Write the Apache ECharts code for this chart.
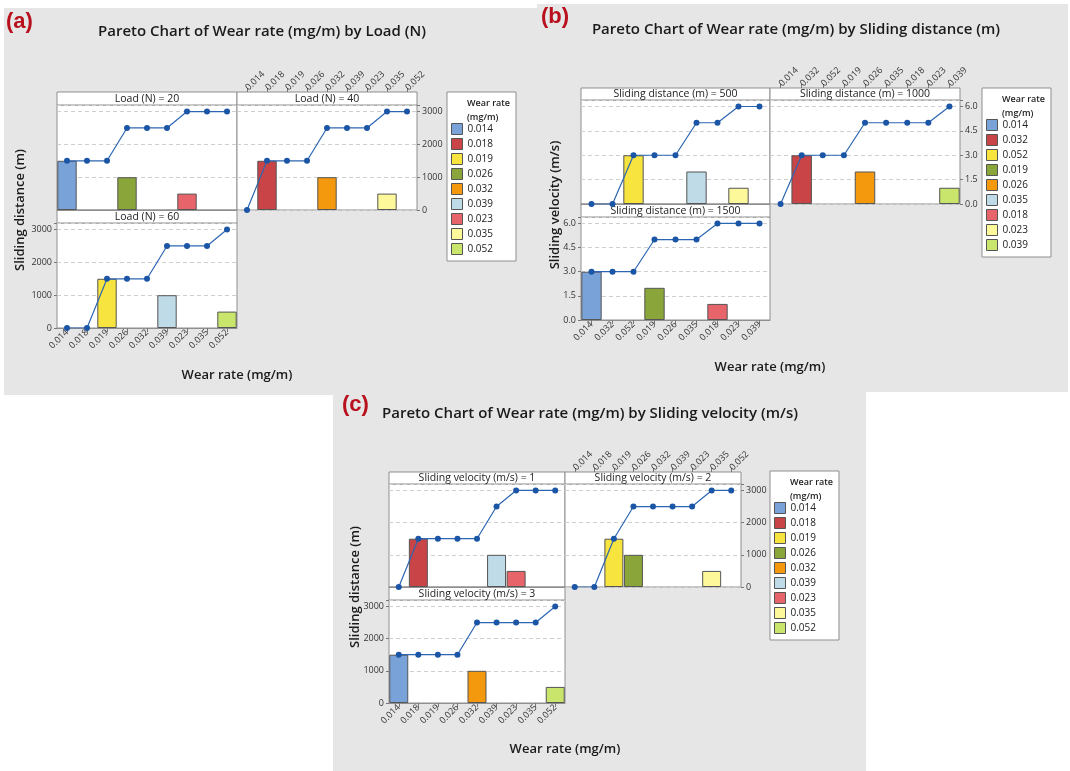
<!DOCTYPE html>
<html>
<head>
<meta charset="utf-8">
<script src="https://cdn.jsdelivr.net/npm/echarts@6/dist/echarts.min.js"></script>
<style>
  html, body { margin: 0; padding: 0; background: #fff; width: 1070px; height: 771px; overflow: hidden; }
  .panel { position: absolute; background: #e6e6e6; }
</style>
</head>
<body>
<div id="pa" class="panel" style="left:4px;top:8px;width:533px;height:387px"></div>
<div id="pb" class="panel" style="left:537px;top:4px;width:531px;height:388px"></div>
<div id="pc" class="panel" style="left:333px;top:392px;width:533px;height:379px"></div>
<script>
// ---- (a) wear rate by load ----
const wearRatesA = ['0.014', '0.018', '0.019', '0.026', '0.032', '0.039', '0.023', '0.035', '0.052'];
const loadFacets = ['20', '40', '60'];
const distAtLoad20 = [1500, 0, 0, 1000, 0, 0, 500, 0, 0];
const distAtLoad40 = [0, 1500, 0, 0, 1000, 0, 0, 500, 0];
const distAtLoad60 = [0, 0, 1500, 0, 0, 1000, 0, 0, 500];
const cumAtLoad20 = [1500, 1500, 1500, 2500, 2500, 2500, 3000, 3000, 3000];
const cumAtLoad40 = [0, 1500, 1500, 1500, 2500, 2500, 2500, 3000, 3000];
const cumAtLoad60 = [0, 0, 1500, 1500, 1500, 2500, 2500, 2500, 3000];
const distanceTicks = [0, 1000, 2000, 3000];

// ---- (b) wear rate by sliding distance ----
const wearRatesB = ['0.014', '0.032', '0.052', '0.019', '0.026', '0.035', '0.018', '0.023', '0.039'];
const distanceFacets = ['500', '1000', '1500'];
const velAtDist500 = [0, 0, 3, 0, 0, 2, 0, 1, 0];
const velAtDist1000 = [0, 3, 0, 0, 2, 0, 0, 0, 1];
const velAtDist1500 = [3, 0, 0, 2, 0, 0, 1, 0, 0];
const cumAtDist500 = [0, 0, 3, 3, 3, 5, 5, 6, 6];
const cumAtDist1000 = [0, 3, 3, 3, 5, 5, 5, 5, 6];
const cumAtDist1500 = [3, 3, 3, 5, 5, 5, 6, 6, 6];
const velocityTicks = [0, 1.5, 3, 4.5, 6];

// ---- (c) wear rate by sliding velocity ----
const wearRatesC = ['0.014', '0.018', '0.019', '0.026', '0.032', '0.039', '0.023', '0.035', '0.052'];
const velocityFacets = ['1', '2', '3'];
const distAtVel1 = [0, 1500, 0, 0, 0, 1000, 500, 0, 0];
const distAtVel2 = [0, 0, 1500, 1000, 0, 0, 0, 500, 0];
const distAtVel3 = [1500, 0, 0, 0, 1000, 0, 0, 0, 500];
const cumAtVel1 = [0, 1500, 1500, 1500, 1500, 2500, 3000, 3000, 3000];
const cumAtVel2 = [0, 0, 1500, 2500, 2500, 2500, 2500, 3000, 3000];
const cumAtVel3 = [1500, 1500, 1500, 1500, 2500, 2500, 2500, 2500, 3000];

// colour of each legend slot, in category order
const PALETTE = ['#79a3d8', '#c84446', '#f8e43e', '#8aa53a', '#f4990e', '#bedbe7', '#e7646a', '#fdf99a', '#cae56b'];
const FONT = '"Open Sans", "Noto Sans", sans-serif';
const BORDER = '#8f8f8f';

const panels = [
  {
    el: 'pa', box: [4, 8], tag: '(a)', tagPos: [6, 11],
    title: 'Pareto Chart of Wear rate (mg/m) by Load (N)', titlePos: [262, 32],
    facetName: 'Load (N)', facets: loadFacets, cats: wearRatesA,
    bars: [distAtLoad20, distAtLoad40, distAtLoad60], cums: [cumAtLoad20, cumAtLoad40, cumAtLoad60],
    ticks: distanceTicks, yMax: 3200, dec: 0,
    cols: [57, 237, 417], rows: [92, 105, 210, 223, 328],
    legendPos: [447, 92], yTitle: 'Sliding distance (m)', yTitlePos: [20, 210],
    xTitle: 'Wear rate (mg/m)', xTitlePos: [237, 375]
  },
  {
    el: 'pb', box: [537, 4], tag: '(b)', tagPos: [541, 6],
    title: 'Pareto Chart of Wear rate (mg/m) by Sliding distance (m)', titlePos: [796, 30],
    facetName: 'Sliding distance (m)', facets: distanceFacets, cats: wearRatesB,
    bars: [velAtDist500, velAtDist1000, velAtDist1500], cums: [cumAtDist500, cumAtDist1000, cumAtDist1500],
    ticks: velocityTicks, yMax: 6.4, dec: 1,
    cols: [581, 770, 960], rows: [88, 100, 204, 217, 320],
    legendPos: [982, 88], yTitle: 'Sliding velocity (m/s)', yTitlePos: [555, 205],
    xTitle: 'Wear rate (mg/m)', xTitlePos: [770, 367]
  },
  {
    el: 'pc', box: [333, 392], tag: '(c)', tagPos: [342, 394],
    title: 'Pareto Chart of Wear rate (mg/m) by Sliding velocity (m/s)', titlePos: [590, 414],
    facetName: 'Sliding velocity (m/s)', facets: velocityFacets, cats: wearRatesC,
    bars: [distAtVel1, distAtVel2, distAtVel3], cums: [cumAtVel1, cumAtVel2, cumAtVel3],
    ticks: distanceTicks, yMax: 3200, dec: 0,
    cols: [389, 565, 741], rows: [472, 484, 587, 600, 703],
    legendPos: [770, 471], yTitle: 'Sliding distance (m)', yTitlePos: [355, 587],
    xTitle: 'Wear rate (mg/m)', xTitlePos: [565, 749]
  }
];

function buildOption(p) {
  const X = v => v - p.box[0];
  const Y = v => v - p.box[1];
  const c = p.cols, r = p.rows;
  // three facet cells: top-left, top-right, bottom-left
  const cells = [
    { l: c[0], rt: c[1], head: r[0], top: r[1], bot: r[2], xMode: 'none', yMode: 'none' },
    { l: c[1], rt: c[2], head: r[0], top: r[1], bot: r[2], xMode: 'top', yMode: 'right' },
    { l: c[0], rt: c[1], head: r[2], top: r[3], bot: r[4], xMode: 'bottom', yMode: 'left' }
  ];
  const grid = [], xAxis = [], yAxis = [], series = [], graphic = [];
  const step = p.ticks[1] - p.ticks[0];

  cells.forEach((cell, k) => {
    grid.push({
      left: X(cell.l), top: Y(cell.top), width: cell.rt - cell.l, height: cell.bot - cell.top,
      show: true, backgroundColor: '#fff', borderColor: BORDER, borderWidth: 1,
      containLabel: false, outerBoundsMode: 'none'
    });
    const showX = cell.xMode !== 'none';
    const onTop = cell.xMode === 'top';
    xAxis.push({
      type: 'category', gridIndex: k, data: p.cats,
      position: onTop ? 'top' : 'bottom',
      // the top axis sits above the facet header strip
      offset: onTop ? cell.top - cell.head : 0,
      boundaryGap: true,
      axisLine: { show: !onTop, onZero: false, lineStyle: { color: BORDER, width: 1 } },
      axisTick: { show: showX, alignWithLabel: true, length: 4, interval: 0, lineStyle: { color: '#777' } },
      axisLabel: { show: showX, interval: 0, rotate: onTop ? -45 : 45, fontSize: 9, color: '#333', margin: 3, fontFamily: FONT },
      splitLine: { show: false }
    });
    const showY = cell.yMode !== 'none';
    yAxis.push({
      type: 'value', gridIndex: k, min: 0, max: p.yMax, interval: step,
      position: cell.yMode === 'right' ? 'right' : 'left',
      axisLine: { show: false, onZero: false },
      axisTick: { show: showY, length: 3, lineStyle: { color: '#777' } },
      axisLabel: {
        show: showY, fontSize: 9, color: '#333', margin: 5, fontFamily: FONT,
        formatter: v => (p.ticks.indexOf(v) >= 0 ? v.toFixed(p.dec) : '')
      },
      splitLine: { show: true, lineStyle: { color: '#cfcfcf', type: [4, 3], width: 1 } }
    });

    // one bar series per wear-rate category (overlapping slots) so the legend can key it
    p.cats.forEach((name, i) => {
      series.push({
        type: 'bar', name: name, xAxisIndex: k, yAxisIndex: k,
        barGap: '-100%', barCategoryGap: '3%',
        itemStyle: { color: PALETTE[i], borderColor: '#555', borderWidth: 1 },
        data: p.bars[k].map((v, j) => (j === i && v > 0 ? v : '-')),
        silent: true
      });
    });
    series.push({
      type: 'line', name: 'cumulative', xAxisIndex: k, yAxisIndex: k, z: 5,
      data: p.cums[k], symbol: 'circle', symbolSize: 6,
      lineStyle: { color: '#2c66b2', width: 1.2 },
      itemStyle: { color: '#1b55a5' },
      silent: true
    });

    // facet header strip
    graphic.push({
      type: 'rect', shape: { x: X(cell.l), y: Y(cell.head), width: cell.rt - cell.l, height: cell.top - cell.head },
      style: { fill: '#fff', stroke: BORDER, lineWidth: 1 }, silent: true
    });
    graphic.push({
      type: 'text', x: X((cell.l + cell.rt) / 2), y: Y((cell.head + cell.top) / 2) + 0.5,
      style: { text: p.facetName + ' = ' + p.facets[k], fill: '#222', font: '10.5px ' + FONT,
               textAlign: 'center', textVerticalAlign: 'middle' }, silent: true
    });
  });

  // panel tag, title, axis titles, legend heading
  graphic.push({
    type: 'text', x: X(p.tagPos[0]), y: Y(p.tagPos[1]),
    style: { text: p.tag, fill: '#b8101c', font: 'bold 22px "Liberation Sans", Arial, sans-serif' }, silent: true
  });
  graphic.push({
    type: 'text', x: X(p.titlePos[0]), y: Y(p.titlePos[1]),
    style: { text: p.title, fill: '#1a1a1a', font: '600 15px ' + FONT, textAlign: 'center', textVerticalAlign: 'middle' }, silent: true
  });
  graphic.push({
    type: 'text', x: X(p.yTitlePos[0]), y: Y(p.yTitlePos[1]), rotation: Math.PI / 2,
    style: { text: p.yTitle, fill: '#1a1a1a', font: '600 13px ' + FONT, textAlign: 'center', textVerticalAlign: 'middle' }, silent: true
  });
  graphic.push({
    type: 'text', x: X(p.xTitlePos[0]), y: Y(p.xTitlePos[1]),
    style: { text: p.xTitle, fill: '#1a1a1a', font: '600 13px ' + FONT, textAlign: 'center', textVerticalAlign: 'middle' }, silent: true
  });
  graphic.push({
    type: 'text', x: X(p.legendPos[0] + 20), y: Y(p.legendPos[1] + 4),
    style: { text: 'Wear rate\n(mg/m)', fill: '#222', font: '600 9px ' + FONT, lineHeight: 14 }, silent: true, z: 100
  });

  return {
    animation: false,
    backgroundColor: 'transparent',
    textStyle: { fontFamily: FONT },
    grid, xAxis, yAxis, series, graphic,
    legend: {
      orient: 'vertical', left: X(p.legendPos[0]), top: Y(p.legendPos[1]),
      data: p.cats, icon: 'rect', itemWidth: 11, itemHeight: 11, itemGap: 3,
      padding: [31, 23, 6, 4], backgroundColor: '#fff', borderColor: BORDER, borderWidth: 1,
      textStyle: { fontSize: 10, lineHeight: 11, color: '#222', fontFamily: FONT },
      itemStyle: { borderColor: '#555', borderWidth: 1 },
      selectedMode: false
    }
  };
}

panels.forEach(p => {
  const chart = echarts.init(document.getElementById(p.el), null, { renderer: 'canvas' });
  chart.setOption(buildOption(p));
});
</script>
</body>
</html>
